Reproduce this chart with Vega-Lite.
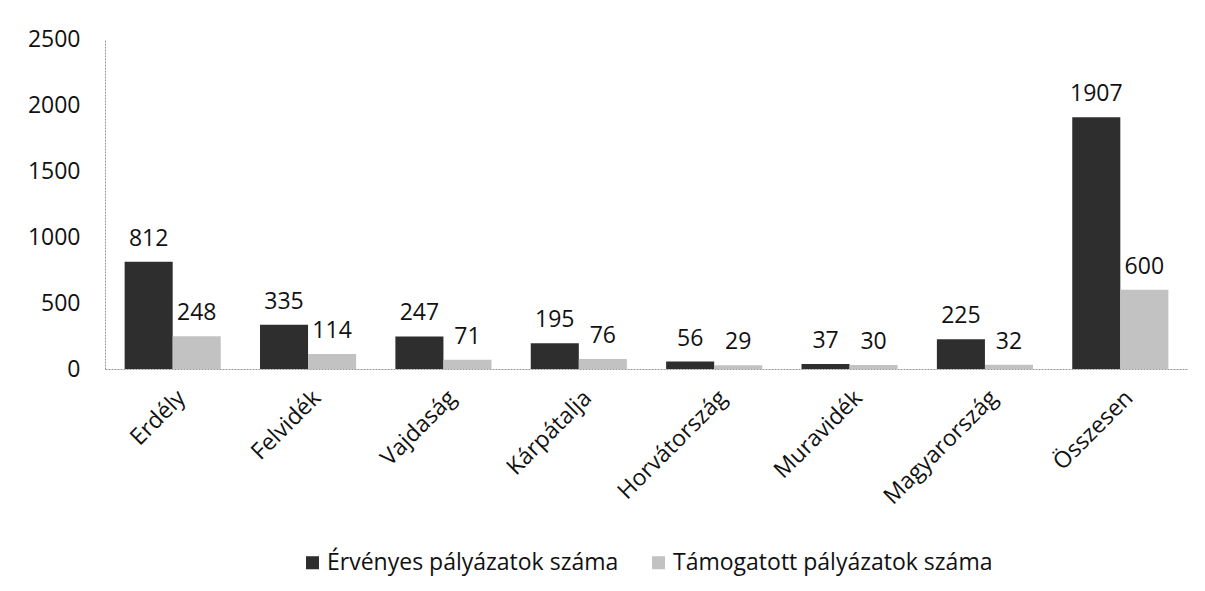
{
  "$schema": "https://vega.github.io/schema/vega-lite/v6.json",
  "width": 1083,
  "height": 330,
  "padding": {"left": 27, "top": 28, "right": 15, "bottom": 5},
  "autosize": {"type": "pad"},
  "background": "white",
  "config": {
    "view": {"stroke": null},
    "font": "Open Sans",
    "axis": {"labelFont": "Open Sans", "labelFontSize": 23, "labelColor": "#111", "grid": false, "ticks": false, "domainColor": "#999", "domainDash": [2, 1]},
    "legend": {"labelFont": "Open Sans", "labelFontSize": 23, "labelColor": "#111", "layout": {"bottom": {"anchor": "middle"}}}
  },
  "data": {
    "values": [
      {"region": "Erdély", "series": "Érvényes pályázatok száma", "value": 812},
      {"region": "Erdély", "series": "Támogatott pályázatok száma", "value": 248},
      {"region": "Felvidék", "series": "Érvényes pályázatok száma", "value": 335},
      {"region": "Felvidék", "series": "Támogatott pályázatok száma", "value": 114},
      {"region": "Vajdaság", "series": "Érvényes pályázatok száma", "value": 247},
      {"region": "Vajdaság", "series": "Támogatott pályázatok száma", "value": 71},
      {"region": "Kárpátalja", "series": "Érvényes pályázatok száma", "value": 195},
      {"region": "Kárpátalja", "series": "Támogatott pályázatok száma", "value": 76},
      {"region": "Horvátország", "series": "Érvényes pályázatok száma", "value": 56},
      {"region": "Horvátország", "series": "Támogatott pályázatok száma", "value": 29},
      {"region": "Muravidék", "series": "Érvényes pályázatok száma", "value": 37},
      {"region": "Muravidék", "series": "Támogatott pályázatok száma", "value": 30},
      {"region": "Magyarország", "series": "Érvényes pályázatok száma", "value": 225},
      {"region": "Magyarország", "series": "Támogatott pályázatok száma", "value": 32},
      {"region": "Összesen", "series": "Érvényes pályázatok száma", "value": 1907},
      {"region": "Összesen", "series": "Támogatott pályázatok száma", "value": 600}
    ]
  },
  "encoding": {
    "x": {"field": "region", "type": "nominal", "sort": null, "title": null,
      "scale": {"paddingInner": 0.29, "paddingOuter": 0.145},
      "axis": {"labelAngle": -45, "labelAlign": "right", "labelBaseline": "middle", "labelPadding": 25, "labelOffset": 9}},
    "xOffset": {"field": "series", "type": "nominal", "sort": null},
    "y": {"field": "value", "type": "quantitative", "title": null,
      "scale": {"domain": [0, 2500]},
      "axis": {"values": [0, 500, 1000, 1500, 2000, 2500], "format": "d", "labelPadding": 25}}
  },
  "layer": [
    {
      "mark": {"type": "bar"},
      "encoding": {
        "color": {"field": "series", "type": "nominal", "sort": null,
          "scale": {"range": ["#2e2e2e", "#c2c2c2"]},
          "legend": {"orient": "bottom", "direction": "horizontal", "title": null, "symbolType": "square", "symbolSize": 170, "symbolStrokeWidth": 0, "columnPadding": 28, "labelOffset": 3, "labelLimit": 0, "offset": 42}}
      }
    },
    {
      "mark": {"type": "text", "baseline": "bottom", "dy": -11, "fontSize": 23, "color": "#111", "font": "Open Sans"},
      "encoding": {"text": {"field": "value", "type": "quantitative"}}
    }
  ]
}
